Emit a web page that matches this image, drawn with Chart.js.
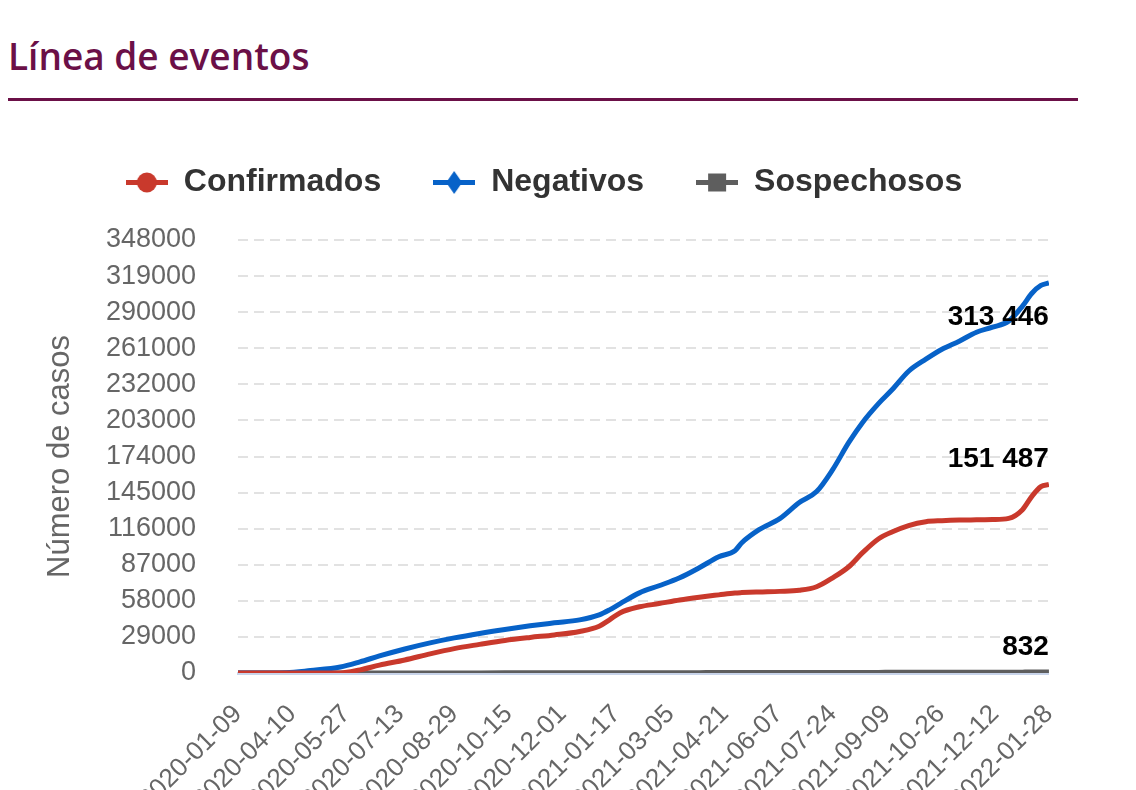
<!DOCTYPE html>
<html lang="es">
<head>
<meta charset="utf-8">
<title>Línea de eventos</title>
<script src="https://cdn.jsdelivr.net/npm/chart.js@4.4.1/dist/chart.umd.min.js"></script>
<style>
  html, body { margin: 0; padding: 0; background: #fff; overflow: hidden; }
  body { width: 1136px; height: 790px; position: relative; }
  #titulo {
    position: absolute; left: 8px; top: 30px; margin: 0;
    font-family: "Open Sans", sans-serif; font-weight: 600; font-size: 37px;
    line-height: normal; color: #6b1047;
  }
  #raya { position: absolute; left: 8px; top: 98px; width: 1070px; height: 3px; background: #6b1047; }
  #caja { position: absolute; left: 0; top: 100px; width: 1097px; height: 703px; }
</style>
</head>
<body>
<h2 id="titulo">Línea de eventos</h2>
<div id="raya"></div>
<div id="caja"><canvas id="lineaEventos"></canvas></div>
<script>
// fechas que se ven en el eje x (una cada 47 registros)
const etiquetas = ['2020-01-09', '2020-04-10', '2020-05-27', '2020-07-13', '2020-08-29', '2020-10-15',
  '2020-12-01', '2021-01-17', '2021-03-05', '2021-04-21', '2021-06-07', '2021-07-24',
  '2021-09-09', '2021-10-26', '2021-12-12', '2022-01-28'];
const paso = 47;

// posición de cada muestra (número de registro)
const indice = [0, 42, 63, 89, 106, 123, 145, 167, 188, 210, 232, 254, 275, 297, 314, 323, 332, 349,
  366, 384, 401, 418, 432, 438, 453, 471, 488, 503, 517, 531, 543, 557, 569, 583, 598, 612,
  627, 642, 656, 670, 682, 690, 698, 705];

const confirmados = [0, 0, 0, 0, 2500, 6300, 10500, 15400, 19600, 23000, 26200, 28600, 30600, 33400,
  37600, 42700, 48300, 53200, 55800, 58700, 60900, 62800, 64300, 64600, 65100, 65600, 66500,
  69300, 76500, 85400, 96700, 107900, 113500, 118500, 121600, 122400, 122900, 123100, 123300,
  124300, 131300, 141800, 149800, 151487];

const negativos = [0, 300, 2000, 4800, 8900, 13700, 19300, 24200, 28200, 31800, 35000, 37900, 40300,
  42700, 46700, 50700, 55600, 64400, 70100, 76500, 84600, 93400, 98300, 104700, 115200, 124100,
  137000, 145800, 163500, 185300, 201400, 216700, 228000, 242500, 252200, 260200, 266700,
  273900, 277900, 282800, 294900, 305000, 311500, 313446];

const sospechosos = [0, 0, 0, 0, 10, 20, 40, 60, 80, 100, 120, 140, 160, 180, 200, 210, 220, 240,
  260, 280, 300, 320, 340, 345, 360, 380, 400, 420, 440, 460, 480, 500, 520, 540, 560, 580,
  600, 620, 640, 660, 700, 760, 800, 832];

const series = ['Confirmados', 'Negativos', 'Sospechosos'];
const colores = ['#c9392c', '#0762c8', '#5e5e5e'];

// iconos de leyenda: línea con marcador
function icono(color, forma) {
  const c = document.createElement('canvas');
  c.width = 42; c.height = 24;
  const g = c.getContext('2d');
  g.fillStyle = color;
  g.fillRect(0, 10, 42, 5);
  g.beginPath();
  if (forma === 'circulo') {
    g.arc(21, 12.5, 10, 0, Math.PI * 2);
  } else if (forma === 'rombo') {
    g.moveTo(21, 1); g.lineTo(29, 12.5); g.lineTo(21, 24); g.lineTo(13, 12.5); g.closePath();
  } else {
    g.rect(12, 3.5, 18, 18);
  }
  g.fill();
  return c;
}
const iconos = [icono(colores[0], 'circulo'), icono(colores[1], 'rombo'), icono(colores[2], 'cuadro')];

const puntos = arr => indice.map((x, i) => ({ x: x, y: arr[i] }));

const miles = v => String(v).replace(/\B(?=(\d{3})+(?!\d))/g, ' ');

// valores al final de cada línea
const etiquetasFinales = {
  id: 'etiquetasFinales',
  afterDatasetsDraw(chart, args, opts) {
    const ctx = chart.ctx;
    ctx.save();
    ctx.font = 'bold 28px "Liberation Sans", Arial, sans-serif';
    ctx.fillStyle = '#000';
    ctx.textAlign = 'right';
    ctx.textBaseline = 'alphabetic';
    chart.data.datasets.forEach((ds, i) => {
      const meta = chart.getDatasetMeta(i);
      const p = meta.data[meta.data.length - 1];
      const v = ds.data[ds.data.length - 1].y;
      ctx.fillText(miles(v), chart.chartArea.right, p.y + opts.desfase[i]);
    });
    ctx.restore();
  }
};

// espacio extra bajo la leyenda
const espacioLeyenda = {
  id: 'espacioLeyenda',
  beforeInit(chart) {
    const fitOriginal = chart.legend.fit;
    chart.legend.fit = function () {
      fitOriginal.bind(chart.legend)();
      this.height += 32;
    };
  }
};

const fuente = '"Liberation Sans", Arial, sans-serif';

new Chart(document.getElementById('lineaEventos').getContext('2d'), {
  type: 'line',
  data: {
    datasets: [{
      label: series[0],
      data: puntos(confirmados),
      borderColor: colores[0],
      backgroundColor: colores[0],
      pointStyle: iconos[0]
    }, {
      label: series[1],
      data: puntos(negativos),
      borderColor: colores[1],
      backgroundColor: colores[1],
      pointStyle: iconos[1]
    }, {
      label: series[2],
      data: puntos(sospechosos),
      borderColor: colores[2],
      backgroundColor: colores[2],
      pointStyle: iconos[2]
    }]
  },
  options: {
    responsive: true,
    maintainAspectRatio: false,
    animation: false,
    layout: { padding: { top: 14, left: 38, right: 47, bottom: 0 } },
    elements: {
      line: { borderWidth: 5, cubicInterpolationMode: 'monotone', fill: false },
      point: { radius: 0, hoverRadius: 0 }
    },
    plugins: {
      legend: {
        position: 'top',
        labels: {
          usePointStyle: true,
          pointStyleWidth: 42,
          padding: 52,
          color: '#333',
          font: { family: fuente, size: 32, weight: 'bold' }
        }
      },
      tooltip: { enabled: false },
      etiquetasFinales: { desfase: [-18, 42, -17] }
    },
    scales: {
      x: {
        type: 'linear',
        min: 0,
        max: 705,
        grid: { display: false, drawTicks: false },
        border: { display: true, color: '#c8d4ea', width: 3 },
        afterFit(scale) { scale.height = 130; },
        ticks: {
          stepSize: paso,
          autoSkip: false,
          minRotation: 45,
          maxRotation: 45,
          padding: 26,
          color: '#666',
          font: { family: fuente, size: 26 },
          callback: v => etiquetas[Math.round(v / paso)]
        }
      },
      y: {
        min: 0,
        max: 348000,
        afterFit(scale) { scale.width = 200; },
        grid: { color: '#e2e2e2', lineWidth: 2, drawTicks: false },
        border: { display: false, dash: [10, 6] },
        title: {
          display: true,
          text: 'Número de casos',
          color: '#666',
          font: { family: fuente, size: 31 }
        },
        ticks: {
          stepSize: 29000,
          padding: 42,
          color: '#666',
          font: { family: fuente, size: 27 },
          callback: v => String(v)
        }
      }
    }
  },
  plugins: [etiquetasFinales, espacioLeyenda]
});
</script>
</body>
</html>
